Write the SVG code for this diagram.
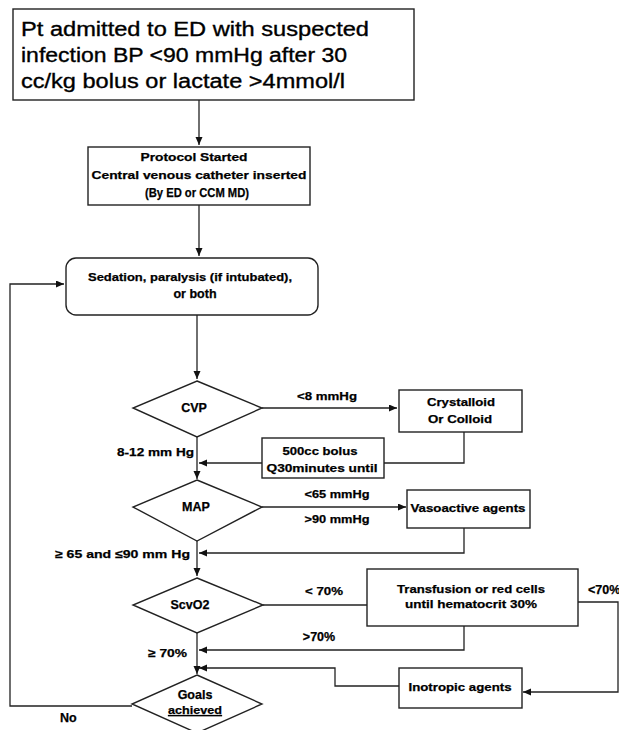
<svg xmlns="http://www.w3.org/2000/svg" width="619" height="730" viewBox="0 0 619 730">
<style>
.bx{fill:#fff;stroke:#222;stroke-width:1.4}
.ln{fill:none;stroke:#222;stroke-width:1.3}
.big{font-family:"Liberation Sans",Arial,sans-serif;font-size:20px;fill:#000;stroke:#000;stroke-width:0.35}
.t{font-family:"Liberation Sans",Arial,sans-serif;font-size:11.5px;font-weight:bold;fill:#000;stroke:#000;stroke-width:0.25}
.u{font-size:12.5px}
.m{text-anchor:middle}
.e{text-anchor:end}
</style>
<defs>
<marker id="ah" markerUnits="userSpaceOnUse" markerWidth="9" markerHeight="8" refX="8" refY="3.5" orient="auto">
<path d="M0,0 L8,3.5 L0,7 z" fill="#111"/>
</marker>
</defs>
<rect width="619" height="730" fill="#fff"/>

<g id="connectors">
<path class="ln" d="M199,100 V145" marker-end="url(#ah)"/>
<path class="ln" d="M199,205 V256" marker-end="url(#ah)"/>
<path class="ln" d="M197,315 V379" marker-end="url(#ah)"/>
<path class="ln" d="M262,408 H397" marker-end="url(#ah)"/>
<path class="ln" d="M464,432 V463 H384"/>
<path class="ln" d="M262,463 H199" marker-end="url(#ah)"/>
<path class="ln" d="M197,437 V479" marker-end="url(#ah)"/>
<path class="ln" d="M262,507 H406" marker-end="url(#ah)"/>
<path class="ln" d="M464,528 V553 H199" marker-end="url(#ah)"/>
<path class="ln" d="M197,541 V576" marker-end="url(#ah)"/>
<path class="ln" d="M263,605 H367"/>
<path class="ln" d="M464,626 V650 H199" marker-end="url(#ah)"/>
<path class="ln" d="M578,602 H618 V692 H523" marker-end="url(#ah)"/>
<path class="ln" d="M399,686 H335 V668 H199" marker-end="url(#ah)"/>
<path class="ln" d="M197,633 V674" marker-end="url(#ah)"/>
<path class="ln" d="M132,706 H10 V284 H64" marker-end="url(#ah)"/>
</g>

<g id="start">
<rect class="bx" x="13" y="9" width="401" height="91"/>
<text class="big" x="21" y="36" textLength="348" lengthAdjust="spacingAndGlyphs">Pt admitted to ED with suspected</text>
<text class="big" x="21" y="62" textLength="326" lengthAdjust="spacingAndGlyphs">infection BP &lt;90 mmHg after 30</text>
<text class="big" x="21" y="88" textLength="324" lengthAdjust="spacingAndGlyphs">cc/kg bolus or lactate &gt;4mmol/l</text>
</g>

<g id="protocol">
<rect class="bx" x="88" y="147" width="222" height="58"/>
<text class="t m" x="194" y="161" textLength="107" lengthAdjust="spacingAndGlyphs">Protocol Started</text>
<text class="t m" x="199" y="179" textLength="215" lengthAdjust="spacingAndGlyphs">Central venous catheter inserted</text>
<text class="t u m" x="197" y="197" textLength="104" lengthAdjust="spacingAndGlyphs">(By ED or CCM MD)</text>
</g>

<g id="sedation">
<rect class="bx" x="66" y="258" width="252" height="57" rx="10"/>
<text class="t m" x="190" y="281" textLength="204" lengthAdjust="spacingAndGlyphs">Sedation, paralysis (if intubated),</text>
<text class="t u m" x="195" y="298">or both</text>
</g>

<g id="cvp">
<polygon class="bx" points="197,381 262,408 197,437 133,408"/>
<text class="t u m" x="194" y="412">CVP</text>
</g>

<g id="crystalloid">
<rect class="bx" x="399" y="390" width="123" height="42"/>
<text class="t m" x="461" y="406" textLength="68" lengthAdjust="spacingAndGlyphs">Crystalloid</text>
<text class="t m" x="460" y="423" textLength="64" lengthAdjust="spacingAndGlyphs">Or Colloid</text>
</g>

<g id="bolus">
<rect class="bx" x="262" y="438" width="122" height="40"/>
<text class="t m" x="320" y="455" textLength="75" lengthAdjust="spacingAndGlyphs">500cc bolus</text>
<text class="t m" x="322" y="472" textLength="111" lengthAdjust="spacingAndGlyphs">Q30minutes until</text>
</g>

<g id="map">
<polygon class="bx" points="197,480 262,507 197,541 133,507"/>
<text class="t u m" x="196" y="511">MAP</text>
</g>

<g id="vasoactive">
<rect class="bx" x="407" y="490" width="123" height="38"/>
<text class="t m" x="468" y="512" textLength="115" lengthAdjust="spacingAndGlyphs">Vasoactive agents</text>
</g>

<g id="scvo2">
<polygon class="bx" points="197,578 263,605 197,633 133,605"/>
<text class="t u m" x="190" y="609">ScvO2</text>
</g>

<g id="transfusion">
<rect class="bx" x="367" y="569" width="211" height="57"/>
<text class="t m" x="471" y="593" textLength="148" lengthAdjust="spacingAndGlyphs">Transfusion or red cells</text>
<text class="t m" x="471" y="608" textLength="132" lengthAdjust="spacingAndGlyphs">until hematocrit 30%</text>
</g>

<g id="inotropic">
<rect class="bx" x="399" y="668" width="123" height="40"/>
<text class="t m" x="460" y="691" textLength="103" lengthAdjust="spacingAndGlyphs">Inotropic agents</text>
</g>

<g id="goals">
<polygon class="bx" points="197,675 262,704 197,733 132,704"/>
<text class="t u m" x="195" y="699">Goals</text>
<text class="t m" x="195" y="714" text-decoration="underline" textLength="54" lengthAdjust="spacingAndGlyphs">achieved</text>
</g>

<g id="labels">
<text class="t m" x="327" y="400" textLength="60" lengthAdjust="spacingAndGlyphs">&lt;8 mmHg</text>
<text class="t e" x="194" y="456" textLength="77" lengthAdjust="spacingAndGlyphs">8-12 mm Hg</text>
<text class="t m" x="337" y="498" textLength="65" lengthAdjust="spacingAndGlyphs">&lt;65 mmHg</text>
<text class="t m" x="337" y="523" textLength="65" lengthAdjust="spacingAndGlyphs">&gt;90 mmHg</text>
<text class="t e" x="190" y="558" textLength="135" lengthAdjust="spacingAndGlyphs">≥ 65 and ≤90 mm Hg</text>
<text class="t m" x="324" y="595" textLength="38" lengthAdjust="spacingAndGlyphs">&lt; 70%</text>
<text class="t u" x="588" y="594">&lt;70%</text>
<text class="t u m" x="319" y="641">&gt;70%</text>
<text class="t e" x="187" y="657" textLength="39" lengthAdjust="spacingAndGlyphs">≥ 70%</text>
<text class="t u" x="60" y="722">No</text>
</g>
</svg>
